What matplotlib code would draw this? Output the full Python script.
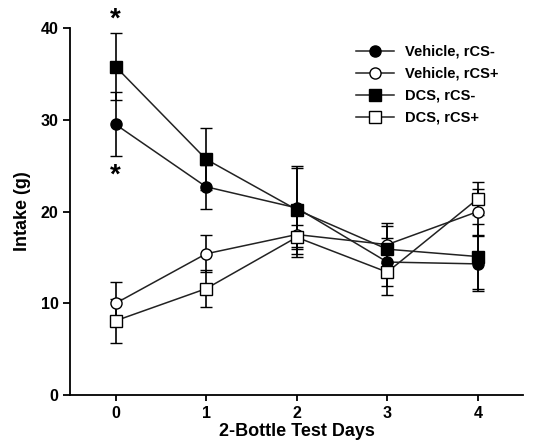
import numpy as np
import matplotlib.pyplot as plt

plt.rcParams['font.family'] = ['Liberation Sans', 'DejaVu Sans']
plt.rcParams['font.weight'] = 'bold'

days = [0, 1, 2, 3, 4]

# means and error (SEM)
veh_minus = [29.5, 22.7, 20.4, 14.5, 14.3]
veh_minus_err = [3.5, 2.4, 4.3, 2.6, 3.0]
veh_plus = [10.0, 15.4, 17.5, 16.4, 20.0]
veh_plus_err = [2.3, 2.0, 2.5, 2.0, 2.5]
dcs_minus = [35.8, 25.7, 20.2, 15.9, 15.1]
dcs_minus_err = [3.6, 3.4, 4.8, 2.9, 3.5]
dcs_plus = [8.1, 11.6, 17.2, 13.4, 21.4]
dcs_plus_err = [2.4, 2.0, 1.3, 2.5, 1.8]

fig = plt.figure(figsize=(5.36, 4.44), dpi=100)
ax = fig.add_axes([0.131, 0.110, 0.845, 0.827])

series = [
    (veh_minus, veh_minus_err, 'o', 'black', 'Vehicle, rCS-'),
    (veh_plus, veh_plus_err, 'o', 'white', 'Vehicle, rCS+'),
    (dcs_minus, dcs_minus_err, 's', 'black', 'DCS, rCS-'),
    (dcs_plus, dcs_plus_err, 's', 'white', 'DCS, rCS+'),
]
handles = []
for vals, err, m, fc, lab in series:
    eb = ax.errorbar(days, vals, yerr=err, marker=m, markersize=8, markerfacecolor=fc,
                     markeredgecolor='black', markeredgewidth=1.0, color='#222222',
                     linewidth=1.1, elinewidth=1.2, capsize=4.5, capthick=1.2,
                     ecolor='black', label=lab, clip_on=False)
    handles.append(eb[0])

# significance markers on day 0
ax.text(0, 40.9, '*', ha='center', va='center', fontsize=20, clip_on=False)
ax.text(0, 23.9, '*', ha='center', va='center', fontsize=20)

ax.set_xlim(-0.5, 4.5)
ax.set_ylim(0, 40)
ax.set_xticks(days)
ax.set_yticks([0, 10, 20, 30, 40])
ax.tick_params(direction='out', length=5, width=1.3, labelsize=11.5)
ax.tick_params(axis='x', length=4)
for s in ['top', 'right']:
    ax.spines[s].set_visible(False)
for s in ['left', 'bottom']:
    ax.spines[s].set_linewidth(1.3)

ax.set_xlabel('2-Bottle Test Days', fontsize=13, fontweight='bold', labelpad=2)
ax.set_ylabel('Intake (g)', fontsize=13, fontweight='bold', labelpad=7)

ax.legend(handles, [s[4] for s in series], loc='upper right',
          bbox_to_anchor=(0.975, 0.99), frameon=False,
          fontsize=10.5, handlelength=2.6, labelspacing=0.55, handletextpad=0.8)

fig.savefig('out.png', dpi=100)
